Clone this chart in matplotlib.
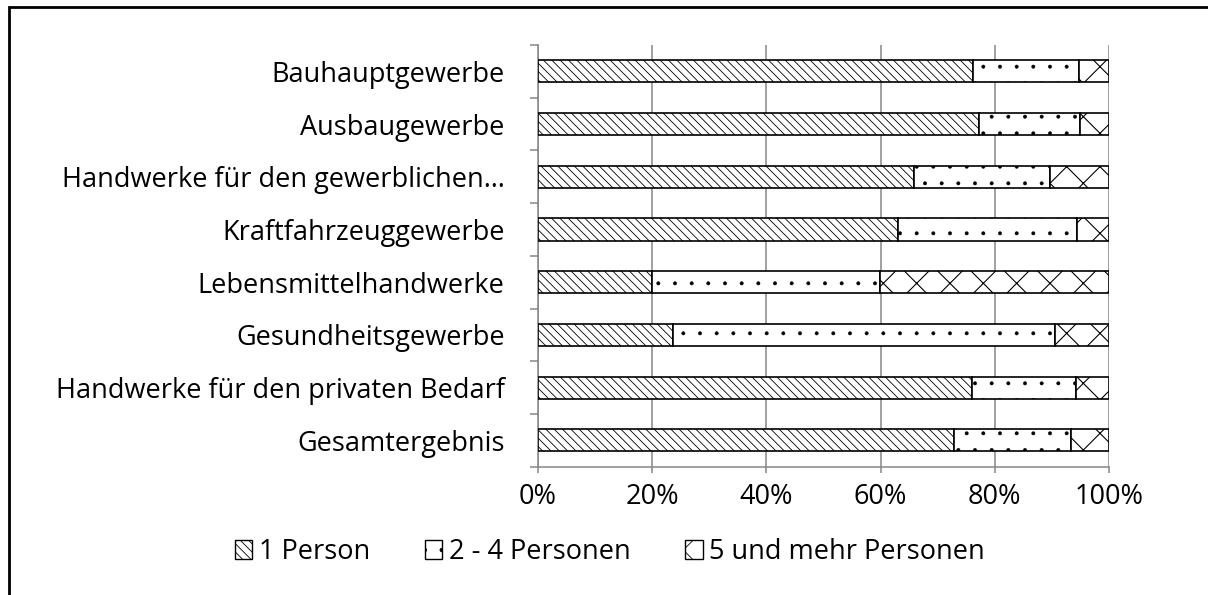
import matplotlib
matplotlib.use("Agg")
import matplotlib.pyplot as plt
import numpy as np
from matplotlib.patches import Patch, Rectangle

# Daten (Anteile in %), von oben nach unten
kategorien = [
    "Bauhauptgewerbe",
    "Ausbaugewerbe",
    "Handwerke für den gewerblichen…",
    "Kraftfahrzeuggewerbe",
    "Lebensmittelhandwerke",
    "Gesundheitsgewerbe",
    "Handwerke für den privaten Bedarf",
    "Gesamtergebnis",
]
eine_person = [76.1, 77.3, 65.9, 63.0, 19.9, 23.7, 76.0, 72.8]
zwei_bis_vier = [18.6, 17.6, 23.7, 31.4, 40.0, 66.9, 18.3, 20.5]
fuenf_und_mehr = [5.3, 5.1, 10.4, 5.6, 40.1, 9.4, 5.7, 6.7]
serien = ["1 Person", "2 - 4 Personen", "5 und mehr Personen"]
muster = ["\\\\\\\\", ".", "x"]
muster_lw = [0.6, 0.35, 0.8]

plt.rcParams["font.family"] = ["Open Sans", "DejaVu Sans"]
plt.rcParams["hatch.linewidth"] = 0.6
FS = 19.5
GRAU = "#868686"

fig = plt.figure(figsize=(12.08, 5.95), dpi=100)
ax = fig.add_axes([538 / 1208, 1 - 466.7 / 595, (1109 - 538) / 1208, (466.7 - 45) / 595])

y = np.arange(len(kategorien))
links = np.zeros(len(kategorien))
for werte, m, hlw in zip([eine_person, zwei_bis_vier, fuenf_und_mehr], muster, muster_lw):
    bars = ax.barh(y, werte, left=links, height=0.42, color="white", edgecolor="black",
                   hatch=m, linewidth=1.2, zorder=3)
    for b in bars:
        if hasattr(b, "set_hatch_linewidth"):
            b.set_hatch_linewidth(hlw)
    links += np.array(werte)

ax.set_xlim(0, 100)
ax.set_ylim(len(kategorien) - 0.5, -0.5)
ax.set_xticks(np.arange(0, 101, 20))
ax.set_xticklabels([f"{v}%" for v in range(0, 101, 20)], fontsize=FS)
ax.set_yticks(y)
ax.set_yticklabels(kategorien, fontsize=FS)
ax.set_yticks(np.arange(-0.5, len(kategorien)), minor=True)
ax.tick_params(axis="y", which="major", length=0, pad=24)
ax.tick_params(axis="y", which="minor", length=6, width=1.1, color=GRAU)
ax.tick_params(axis="x", length=4, width=1.1, color=GRAU, pad=8)
ax.grid(axis="x", color=GRAU, linewidth=1.1, zorder=0)
for s in ["top", "right"]:
    ax.spines[s].set_visible(False)
for s in ["left", "bottom"]:
    ax.spines[s].set_color(GRAU)
    ax.spines[s].set_linewidth(1.1)

handles = []
for m, hlw in zip(muster, muster_lw):
    h = Patch(facecolor="white", edgecolor="black", hatch=m, linewidth=1.0)
    if hasattr(h, "set_hatch_linewidth"):
        h.set_hatch_linewidth(hlw)
    handles.append(h)
fig.legend(handles, serien, loc="center", bbox_to_anchor=(610 / 1208, 1 - 552 / 595),
           ncol=3, frameon=False, fontsize=FS, handlelength=0.65, handleheight=0.65,
           handletextpad=0.25, columnspacing=2.0)

# Rahmen des Diagrammbereichs (rechts und unten abgeschnitten)
fig.add_artist(Rectangle((8.5 / 1208, -0.1), 2, 1.1 - 6.7 / 595, transform=fig.transFigure,
                         fill=False, edgecolor="black", linewidth=2))

fig.savefig("out.png", dpi=100)
